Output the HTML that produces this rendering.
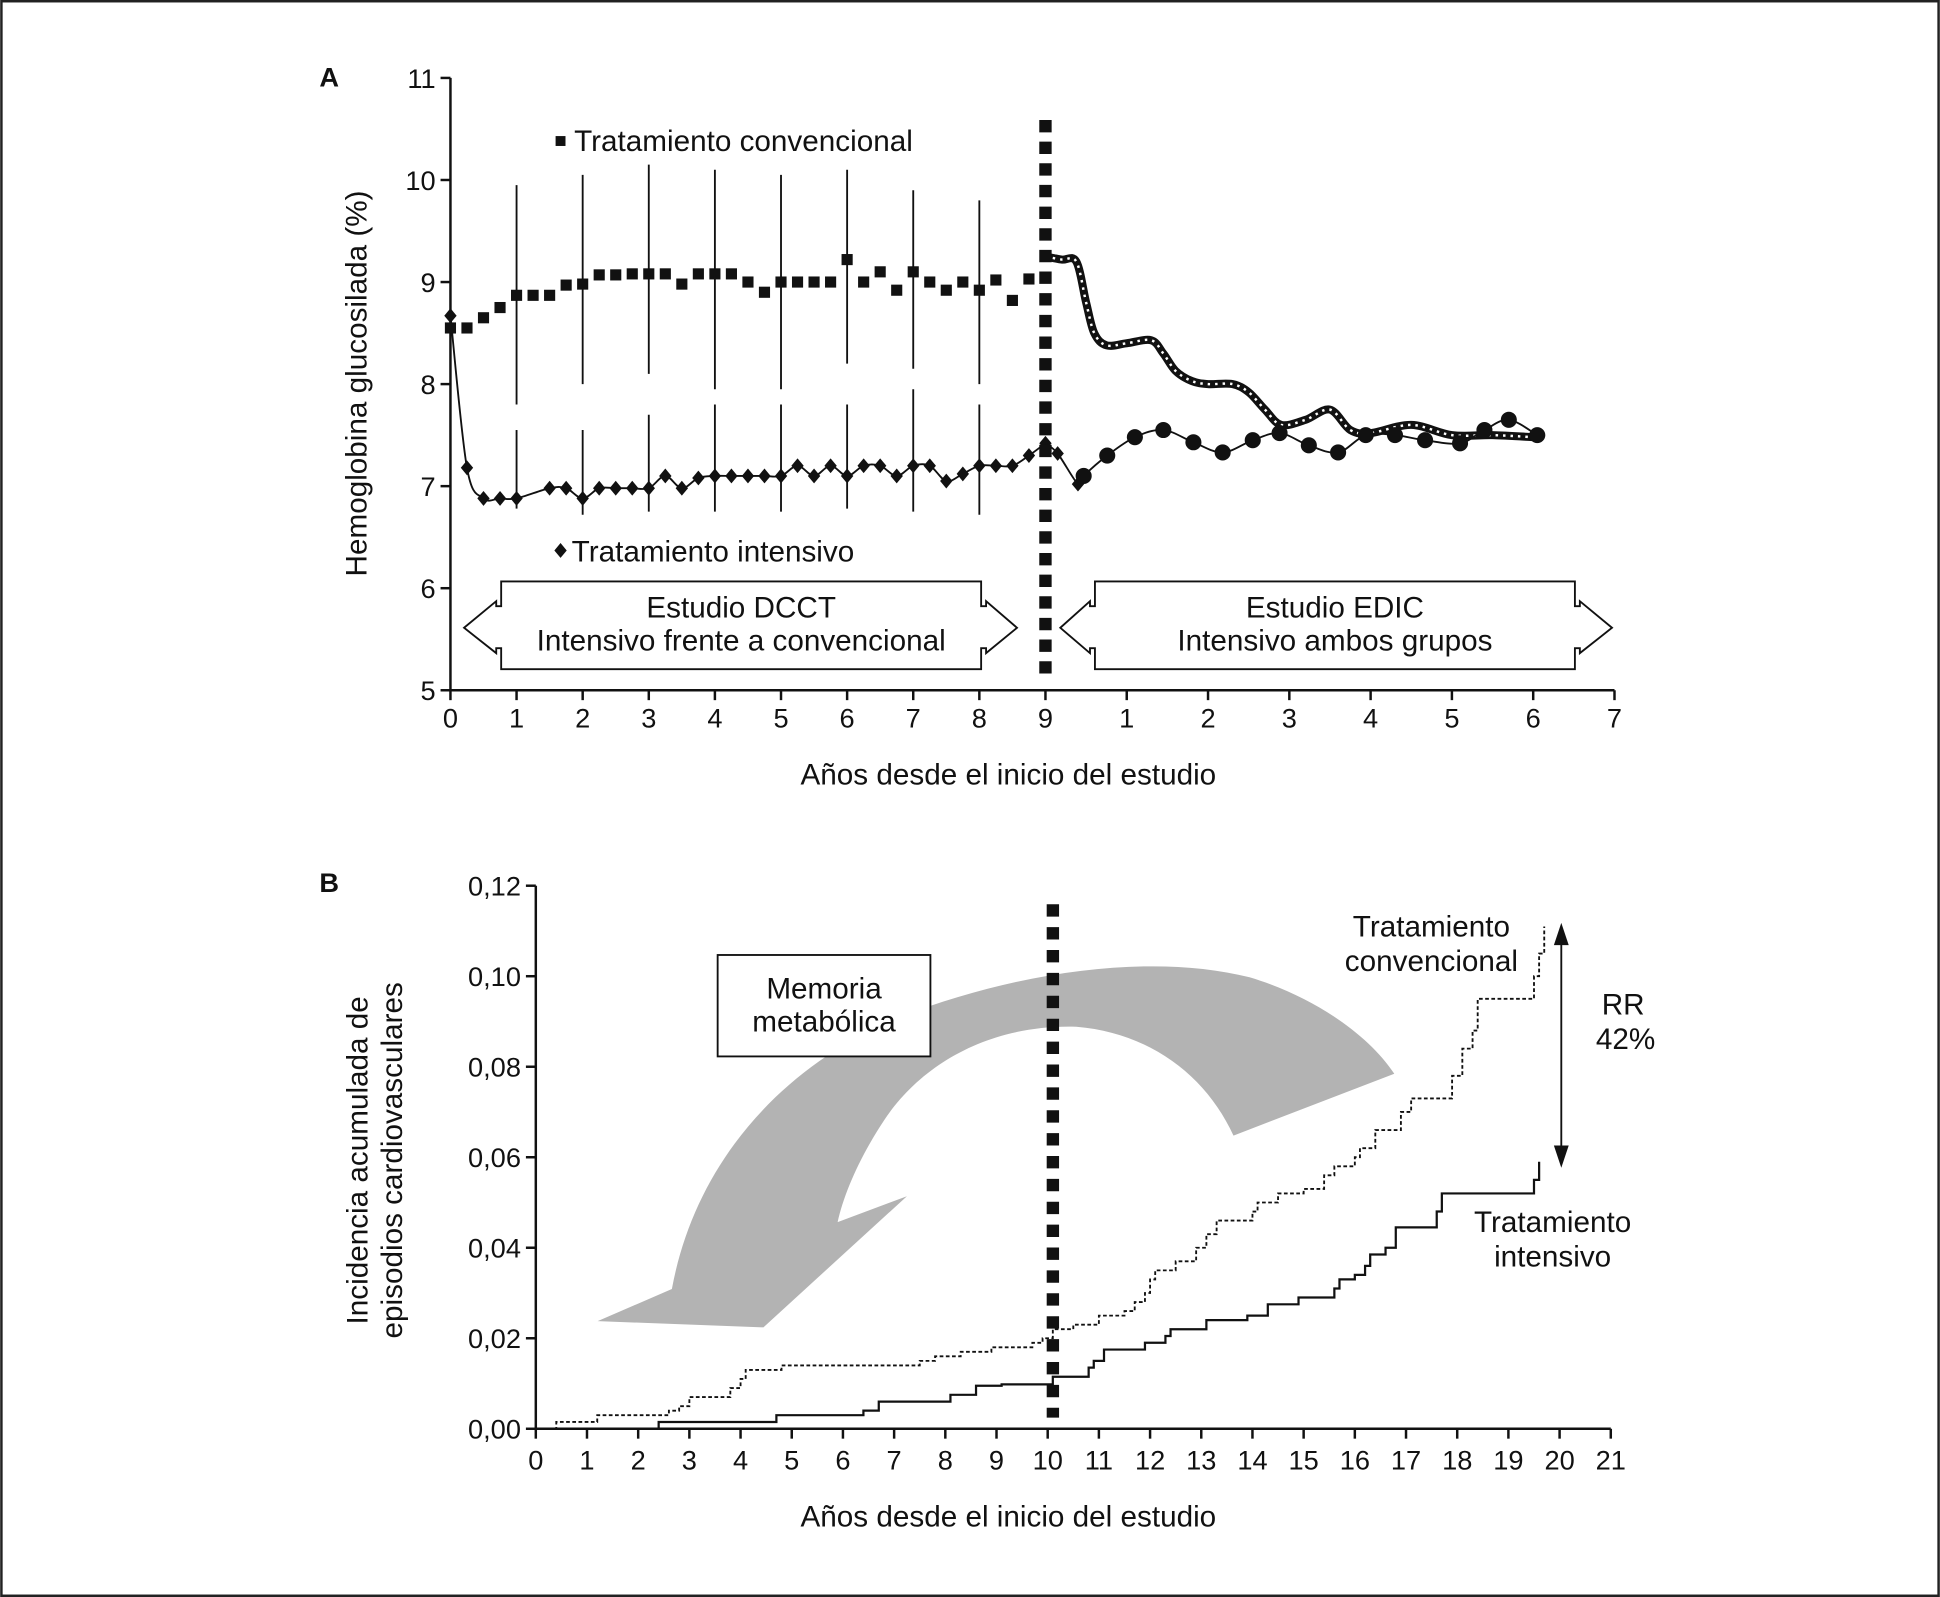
<!DOCTYPE html>
<html><head><meta charset="utf-8">
<style>
html,body{margin:0;padding:0;background:#fff;}
svg{display:block;}
text{font-family:"Liberation Sans",Arial,sans-serif;fill:#111;}
</style></head>
<body>
<svg id="fig" width="1940" height="1597" viewBox="0 0 1568 1291" xmlns="http://www.w3.org/2000/svg">
<rect x="1" y="1" width="1566" height="1289" fill="#fff" stroke="#222" stroke-width="2"/>
<g id="A"></g>
<g id="B"></g>
</svg>
<script>
// ---------- Panel A data ----------
const aConvX = [0,0.25,0.5,0.75,1,1.25,1.5,1.75,2,2.25,2.5,2.75,3,3.25,3.5,3.75,4,4.25,4.5,4.75,5,5.25,5.5,5.75,6,6.25,6.5,6.75,7,7.25,7.5,7.75,8,8.25,8.5,8.75];
const aConvY = [8.55,8.55,8.65,8.75,8.87,8.87,8.87,8.97,8.98,9.07,9.07,9.08,9.08,9.08,8.98,9.08,9.08,9.08,9.0,8.9,9.0,9.0,9.0,9.0,9.22,9.0,9.1,8.92,9.1,9.0,8.92,9.0,8.92,9.02,8.82,9.03];
const aIntX = [0,0.25,0.5,0.75,1,1.5,1.75,2,2.25,2.5,2.75,3,3.25,3.5,3.75,4,4.25,4.5,4.75,5,5.25,5.5,5.75,6,6.25,6.5,6.75,7,7.25,7.5,7.75,8,8.25,8.5,8.75,9];
const aIntY = [8.67,7.18,6.88,6.88,6.88,6.98,6.98,6.88,6.98,6.98,6.98,6.98,7.1,6.98,7.08,7.1,7.1,7.1,7.1,7.1,7.2,7.1,7.2,7.1,7.2,7.2,7.1,7.2,7.2,7.05,7.12,7.2,7.2,7.2,7.3,7.42];
const errYears = [1,2,3,4,5,6,7,8];
const errConvHi = [9.95,10.05,10.15,10.1,10.05,10.1,9.9,9.8];
const errConvLo = [7.8,8.0,8.1,7.95,7.95,8.2,8.15,8.0];
const errIntHi = [7.55,7.55,7.7,7.8,7.8,7.8,7.95,7.8];
const errIntLo = [6.78,6.72,6.75,6.75,6.75,6.78,6.75,6.72];
const edicConvX = [0,0.2,0.38,0.5,0.6,0.75,1,1.3,1.45,1.6,1.8,2,2.3,2.5,2.7,2.9,3.2,3.5,3.75,4,4.5,5,5.5,6];
const edicConvY = [9.25,9.22,9.2,8.8,8.5,8.38,8.4,8.43,8.3,8.13,8.03,8.0,8.0,7.92,7.75,7.6,7.65,7.75,7.55,7.52,7.6,7.5,7.5,7.48];
const edicIntX = [0,0.15,0.4,0.47,0.76,1.1,1.45,1.82,2.18,2.55,2.88,3.24,3.6,3.94,4.3,4.67,5.1,5.4,5.7,6.05];
const edicIntY = [7.42,7.32,7.02,7.1,7.3,7.48,7.55,7.43,7.33,7.45,7.52,7.4,7.33,7.5,7.5,7.45,7.42,7.55,7.65,7.5];
const aYTicks = [5,6,7,8,9,10,11];
const aXTicksD = [0,1,2,3,4,5,6,7,8,9];
const aXTicksE = [1,2,3,4,5,6,7];
// ---------- Panel B data ----------
const bConvX = [0,0.4,1.2,2.6,2.8,3,3.8,4,4.1,4.8,7.5,7.8,8.3,8.9,9.7,9.9,10.1,10.5,11,11.5,11.7,11.9,12,12.1,12.5,12.9,13.1,13.3,14,14.1,14.5,15,15.4,15.6,16,16.1,16.4,16.9,17.1,17.9,18.1,18.3,18.4,19.5,19.6,19.7];
const bConvY = [0,0.0015,0.003,0.004,0.005,0.007,0.009,0.011,0.013,0.014,0.015,0.016,0.017,0.018,0.019,0.02,0.022,0.023,0.025,0.026,0.028,0.03,0.033,0.035,0.037,0.04,0.043,0.046,0.048,0.05,0.052,0.053,0.056,0.058,0.06,0.062,0.066,0.07,0.073,0.078,0.084,0.088,0.095,0.1,0.105,0.111];
const bIntX = [0,2.4,4.7,6.4,6.7,8.1,8.6,9.1,10.1,10.8,10.9,11.1,11.9,12.3,12.4,13.1,13.9,14.3,14.9,15.6,15.7,16,16.2,16.3,16.6,16.8,17.6,17.7,19.5,19.6];
const bIntY = [0,0.0015,0.003,0.004,0.006,0.0075,0.0095,0.0098,0.0115,0.0135,0.015,0.0175,0.019,0.0205,0.022,0.024,0.025,0.0275,0.029,0.031,0.033,0.034,0.036,0.0385,0.04,0.0445,0.048,0.052,0.055,0.059];
const bEnd = [19.7,19.6];
const bYTicks = [0,0.02,0.04,0.06,0.08,0.10,0.12];
const bXTicks = [0,1,2,3,4,5,6,7,8,9,10,11,12,13,14,15,16,17,18,19,20,21];

const NS="http://www.w3.org/2000/svg";
function mk(parent,tag,attrs,txt){const e=document.createElementNS(NS,tag);for(const k in attrs)e.setAttribute(k,attrs[k]);if(txt!==undefined)e.textContent=txt;parent.appendChild(e);return e;}
function smooth(pts){let d=`M${pts[0][0]},${pts[0][1]}`;for(let i=0;i<pts.length-1;i++){const p0=pts[i-1]||pts[i],p1=pts[i],p2=pts[i+1],p3=pts[i+2]||p2;const c1=[p1[0]+(p2[0]-p0[0])/6,p1[1]+(p2[1]-p0[1])/6],c2=[p2[0]-(p3[0]-p1[0])/6,p2[1]-(p3[1]-p1[1])/6];d+=` C${c1[0]},${c1[1]} ${c2[0]},${c2[1]} ${p2[0]},${p2[1]}`;}return d;}

// ===== Panel A =====
const A=document.getElementById('A');
const ax0=364, ax9=845, axE7=1305, ayTop=63, ayBot=558;
const xD=v=>ax0+v*(ax9-ax0)/9;
const xE=v=>ax9+v*(axE7-ax9)/7;
const yA=v=>ayBot-(v-5)*(ayBot-ayTop)/6;
let e;
e=mk(A,'text',{x:258,y:70,'font-size':22,'font-weight':'bold'},'A');


e=mk(A,'line',{x1:ax0,y1:ayTop,x2:ax0,y2:ayBot,stroke:'#111','stroke-width':2});


e=mk(A,'line',{x1:ax0,y1:ayBot,x2:axE7,y2:ayBot,stroke:'#111','stroke-width':2});


aYTicks.forEach(t=>{mk(A,'line',{x1:ax0-8,y1:yA(t),x2:ax0,y2:yA(t),stroke:'#111','stroke-width':2});
 e=mk(A,'text',{x:ax0-12,y:yA(t)+8,'font-size':22,'text-anchor':'end'},String(t));
 
 });
aXTicksD.forEach(t=>{mk(A,'line',{x1:xD(t),y1:ayBot,x2:xD(t),y2:ayBot+8,stroke:'#111','stroke-width':2});
 e=mk(A,'text',{x:xD(t),y:ayBot+30,'font-size':22,'text-anchor':'middle'},String(t));
 
 });
aXTicksE.forEach(t=>{mk(A,'line',{x1:xE(t),y1:ayBot,x2:xE(t),y2:ayBot+8,stroke:'#111','stroke-width':2});
 e=mk(A,'text',{x:xE(t),y:ayBot+30,'font-size':22,'text-anchor':'middle'},String(t));
 
 });
e=mk(A,'text',{x:815,y:634,'font-size':24,'text-anchor':'middle'},'Años desde el inicio del estudio');


e=mk(A,'text',{x:0,y:0,'font-size':24,'text-anchor':'middle',transform:`translate(296,310) rotate(-90)`},'Hemoglobina glucosilada (%)');


errYears.forEach((t,i)=>{
 e=mk(A,'line',{x1:xD(t),y1:yA(errConvHi[i]),x2:xD(t),y2:yA(errConvLo[i]),stroke:'#111','stroke-width':1.5});
 
 
 e=mk(A,'line',{x1:xD(t),y1:yA(errIntHi[i]),x2:xD(t),y2:yA(errIntLo[i]),stroke:'#111','stroke-width':1.5});
 
 });
e=mk(A,'path',{d:smooth(aIntX.map((x,i)=>[xD(x),yA(aIntY[i])])),fill:'none',stroke:'#111','stroke-width':1.5});


aIntX.forEach((x,i)=>{const cx=xD(x),cy=yA(aIntY[i]);
 e=mk(A,'polygon',{points:`${cx},${cy-6} ${cx+5},${cy} ${cx},${cy+6} ${cx-5},${cy}`,fill:'#111'});
 
 });
aConvX.forEach((x,i)=>{const cx=xD(x),cy=yA(aConvY[i]);
 e=mk(A,'rect',{x:cx-4.5,y:cy-4.5,width:9,height:9,fill:'#111'});
 
 });
const cp=edicConvX.map((x,i)=>[xE(x),yA(edicConvY[i])]);
e=mk(A,'path',{d:smooth(cp),fill:'none',stroke:'#111','stroke-width':6.5});


e=mk(A,'path',{d:smooth(cp),fill:'none',stroke:'#fff','stroke-width':2,'stroke-dasharray':'2 4'});


e=mk(A,'path',{d:smooth(edicIntX.map((x,i)=>[xE(x),yA(edicIntY[i])])),fill:'none',stroke:'#111','stroke-width':1.5});


edicIntX.forEach((x,i)=>{if(i===0)return;const cx=xE(x),cy=yA(edicIntY[i]);
 if(i<3){e=mk(A,'polygon',{points:`${cx},${cy-6} ${cx+5},${cy} ${cx},${cy+6} ${cx-5},${cy}`,fill:'#111'});}
 else{e=mk(A,'circle',{cx:cx,cy:cy,r:6.5,fill:'#111'});}
 
 });
mk(A,'rect',{x:449,y:110,width:8,height:8,fill:'#111'});
e=mk(A,'text',{x:464,y:122,'font-size':24},'Tratamiento convencional');


mk(A,'polygon',{points:'453,439 458,445 453,451 448,445',fill:'#111'});
e=mk(A,'text',{x:462,y:454,'font-size':24},'Tratamiento intensivo');


function studyBox(l,r,lt,rt,lines,name){
 const t=470,b=541,h1=486,h2=528,hw=17;
 const d=`M${l},${t} L${r},${t} L${r},${h1+4} L${r+hw-13},${h1+4} L${r+hw-13},${h1} L${rt},${(t+b)/2+2} L${r+hw-13},${h2} L${r+hw-13},${h2-4} L${r},${h2-4} L${r},${b} L${l},${b} L${l},${h2-4} L${l-hw+13},${h2-4} L${l-hw+13},${h2} L${lt},${(t+b)/2+2} L${l-hw+13},${h1} L${l-hw+13},${h1+4} L${l},${h1+4} Z`;
 e=mk(A,'path',{d:d,fill:'#fff',stroke:'#111','stroke-width':1.5});
 
 
 lines.forEach((s,i)=>{e=mk(A,'text',{x:(l+r)/2,y:499+i*27,'font-size':24,'text-anchor':'middle'},s);
  
  });
}
studyBox(405,793,375,822,['Estudio DCCT','Intensivo frente a convencional'],'dcct-box');
studyBox(885,1273,857,1303,['Estudio EDIC','Intensivo ambos grupos'],'edic-box');
e=mk(A,'line',{x1:845,y1:97,x2:845,y2:552,stroke:'#111','stroke-width':10,'stroke-dasharray':'10 7.5'});



// ===== Panel B =====
const B=document.getElementById('B');
const bx0=433,bx21=1302,byTop=716,byBot=1155;
const xB=v=>bx0+v*(bx21-bx0)/21;
const yB=v=>byBot-v*(byBot-byTop)/0.12;
e=mk(B,'text',{x:258,y:721,'font-size':22,'font-weight':'bold'},'B');


e=mk(B,'path',{d:'M483,1068 L543,1042 C560,950 620,870 720,825 C820,785 930,770 1010,790 C1060,805 1105,835 1127,868 L997,918 C975,870 930,835 870,830 C800,828 745,860 715,905 C695,935 682,965 677,988 L733,967 L617,1073 Z',fill:'#b3b3b3'});


e=mk(B,'line',{x1:bx0,y1:byTop,x2:bx0,y2:byBot,stroke:'#111','stroke-width':2});


e=mk(B,'line',{x1:bx0,y1:byBot,x2:bx21,y2:byBot,stroke:'#111','stroke-width':2});


bYTicks.forEach(t=>{mk(B,'line',{x1:bx0-8,y1:yB(t),x2:bx0,y2:yB(t),stroke:'#111','stroke-width':2});
 e=mk(B,'text',{x:bx0-12,y:yB(t)+8,'font-size':22,'text-anchor':'end'},t.toFixed(2).replace('.',','));
 
 });
bXTicks.forEach(t=>{mk(B,'line',{x1:xB(t),y1:byBot,x2:xB(t),y2:byBot+8,stroke:'#111','stroke-width':2});
 e=mk(B,'text',{x:xB(t),y:byBot+33,'font-size':22,'text-anchor':'middle'},String(t));
 
 });
e=mk(B,'text',{x:815,y:1234,'font-size':24,'text-anchor':'middle'},'Años desde el inicio del estudio');


e=mk(B,'text',{x:0,y:0,'font-size':24,'text-anchor':'middle',transform:'translate(297,938) rotate(-90)'},'Incidencia acumulada de');


e=mk(B,'text',{x:0,y:0,'font-size':24,'text-anchor':'middle',transform:'translate(325,938) rotate(-90)'},'episodios cardiovasculares');


function steps(xs,ys,end){let d=`M${xB(xs[0])},${yB(ys[0])}`;for(let i=1;i<xs.length;i++){d+=` H${xB(xs[i])} V${yB(ys[i])}`;}if(end>xs[xs.length-1])d+=` H${xB(end)}`;return d;}
e=mk(B,'path',{d:steps(bConvX,bConvY,bEnd[0]),fill:'none',stroke:'#111','stroke-width':1.5,'stroke-dasharray':'3 2'});


e=mk(B,'path',{d:steps(bIntX,bIntY,bEnd[1]),fill:'none',stroke:'#111','stroke-width':1.8});


e=mk(B,'line',{x1:851,y1:731,x2:851,y2:1146,stroke:'#111','stroke-width':10,'stroke-dasharray':'10 8.5'});


e=mk(B,'rect',{x:580,y:772,width:172,height:82,fill:'#fff',stroke:'#111','stroke-width':1.5});


mk(B,'text',{x:666,y:807,'font-size':24,'text-anchor':'middle'},'Memoria');
mk(B,'text',{x:666,y:834,'font-size':24,'text-anchor':'middle'},'metabólica');
e=mk(B,'line',{x1:1262,y1:758,x2:1262,y2:932,stroke:'#111','stroke-width':1.5});


mk(B,'polygon',{points:'1262,746 1256,764 1268,764',fill:'#111'});
mk(B,'polygon',{points:'1262,944 1256,926 1268,926',fill:'#111'});
e=mk(B,'text',{x:1312,y:820,'font-size':24,'text-anchor':'middle'},'RR');


mk(B,'text',{x:1314,y:848,'font-size':24,'text-anchor':'middle'},'42%');
e=mk(B,'text',{x:1157,y:757,'font-size':24,'text-anchor':'middle'},'Tratamiento');


mk(B,'text',{x:1157,y:785,'font-size':24,'text-anchor':'middle'},'convencional');
e=mk(B,'text',{x:1255,y:996,'font-size':24,'text-anchor':'middle'},'Tratamiento');


mk(B,'text',{x:1255,y:1024,'font-size':24,'text-anchor':'middle'},'intensivo');
</script>
</body></html>
